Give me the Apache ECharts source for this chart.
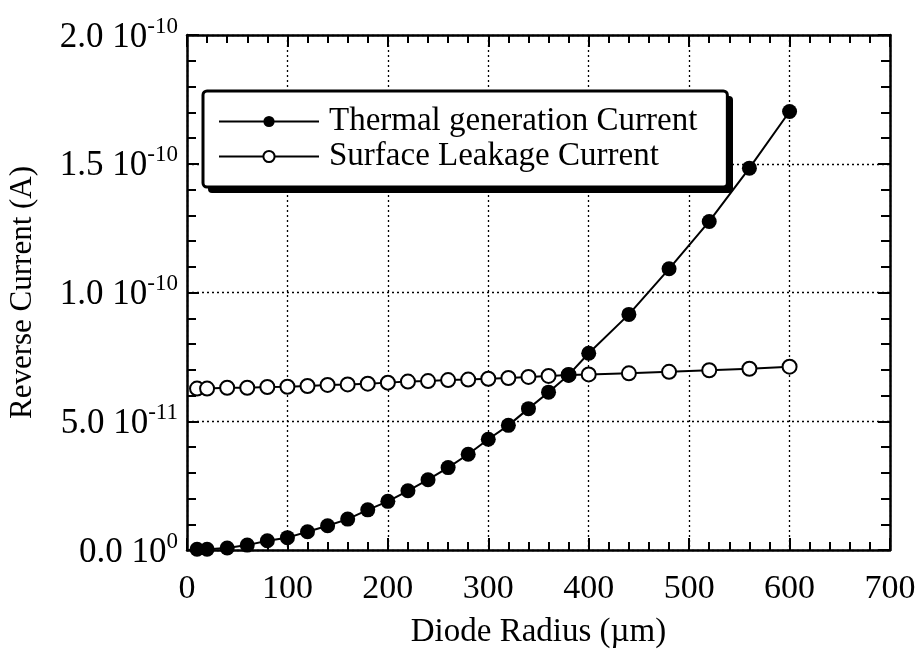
<!DOCTYPE html>
<html>
<head>
<meta charset="utf-8">
<script src="https://cdn.jsdelivr.net/npm/echarts@6/dist/echarts.min.js"></script>
<style>
html,body{margin:0;padding:0;background:#fff;}
#chart{width:916px;height:653px;}
</style>
</head>
<body>
<div id="chart"></div>
<script>
// Diode radius (µm)
var radius = [10, 20, 40, 60, 80, 100, 120, 140, 160, 180, 200, 220, 240, 260, 280, 300, 320, 340, 360, 380, 400, 440, 480, 520, 560, 600];
// Reverse current in units of 1e-11 A
var thermal = [0.03, 0.03, 0.08, 0.19, 0.36, 0.48, 0.71, 0.94, 1.2, 1.56, 1.89, 2.3, 2.73, 3.2, 3.72, 4.3, 4.84, 5.49, 6.13, 6.8, 7.64, 9.15, 10.92, 12.76, 14.83, 17.03];
var surface = [6.27, 6.27, 6.3, 6.3, 6.33, 6.34, 6.37, 6.41, 6.43, 6.46, 6.5, 6.54, 6.56, 6.6, 6.62, 6.65, 6.68, 6.72, 6.76, 6.8, 6.82, 6.86, 6.92, 6.98, 7.04, 7.12];
var seriesNames = ['Thermal generation Current', 'Surface Leakage Current'];
var yTickMantissa = ['0.0', '5.0', '1.0', '1.5', '2.0'];
var yTickExponent = ['0', '-11', '-10', '-10', '-10'];
var xTitle = 'Diode Radius (\u00b5m)';
var yTitle = 'Reverse Current (A)';

var FONT = 'Liberation Serif';
var chart = echarts.init(document.getElementById('chart'));

function pairs(xs, ys) { return xs.map(function (x, i) { return [x, ys[i]]; }); }

var axisLineStyle = { color: '#000', width: 2.5 };
var gridDot = { show: true, lineStyle: { color: '#000', width: 1.3, type: [2, 3] } };

function xAx(pos, labels) {
  return {
    type: 'value', position: pos, min: 0, max: 700, interval: 100,
    axisLine: { show: true, onZero: false, lineStyle: axisLineStyle },
    axisTick: { show: true, inside: true, length: 12, lineStyle: { color: '#000', width: 2 } },
    minorTick: { show: true, splitNumber: 5, length: 8, lineStyle: { color: '#000', width: 2 } },
    splitLine: labels ? gridDot : { show: false },
    axisLabel: labels ? { show: true, margin: 22, color: '#000', fontFamily: FONT, fontSize: 34 } : { show: false },
    name: labels ? xTitle : '', nameLocation: 'middle', nameGap: 66,
    nameTextStyle: { color: '#000', fontFamily: FONT, fontSize: 33 }
  };
}
function yAx(pos, labels) {
  return {
    type: 'value', position: pos, min: 0, max: 20, interval: 5,
    axisLine: { show: true, onZero: false, lineStyle: axisLineStyle },
    axisTick: { show: true, inside: true, length: 12, lineStyle: { color: '#000', width: 2 } },
    minorTick: { show: true, splitNumber: 5, length: 9, lineStyle: { color: '#000', width: 2 } },
    splitLine: labels ? gridDot : { show: false },
    axisLabel: labels ? {
      show: true, margin: 9, color: '#000', fontFamily: FONT,
      formatter: function (v) {
        var i = Math.round(v / 5);
        return '{a|' + yTickMantissa[i] + ' 10}{b|' + yTickExponent[i] + '}';
      },
      rich: {
        a: { fontFamily: FONT, fontSize: 35, color: '#000', lineHeight: 40, verticalAlign: 'bottom' },
        b: { fontFamily: FONT, fontSize: 23, color: '#000', verticalAlign: 'top', lineHeight: 23 }
      }
    } : { show: false },
    name: labels ? yTitle : '', nameLocation: 'middle', nameGap: 149,
    nameTextStyle: { color: '#000', fontFamily: FONT, fontSize: 31 }
  };
}

chart.setOption({
  backgroundColor: '#fff',
  animation: false,
  grid: { left: 187, right: 26, top: 35, bottom: 103, containLabel: false, outerBoundsMode: 'none' },
  xAxis: [xAx('bottom', true), xAx('top', false)],
  yAxis: [yAx('left', true), yAx('right', false)],
  graphic: [{
    type: 'rect', z: 90, silent: true,
    shape: { x: 208, y: 96, width: 525, height: 97, r: 4 },
    style: { fill: '#000' }
  }],
  legend: {
    data: seriesNames, z: 100,
    orient: 'vertical', left: 203, top: 91,
    padding: [14, 30, 14, 15], itemGap: 2,
    itemWidth: 100, itemHeight: 14,
    backgroundColor: '#fff', borderColor: '#000', borderWidth: 3, borderRadius: 4,
    textStyle: { color: '#000', fontFamily: FONT, fontSize: 33, padding: [0, 0, 0, 5] }
  },
  series: [
    {
      name: seriesNames[0], type: 'line', z: 4, data: pairs(radius, thermal),
      symbol: 'circle', symbolSize: 15,
      lineStyle: { color: '#000', width: 2 },
      itemStyle: { color: '#000' }
    },
    {
      name: seriesNames[1], type: 'line', z: 3, data: pairs(radius, surface),
      symbol: 'emptyCircle', symbolSize: 14,
      lineStyle: { color: '#000', width: 2 },
      itemStyle: { color: '#000', borderColor: '#000', borderWidth: 2 }
    }
  ]
});
</script>
</body>
</html>
